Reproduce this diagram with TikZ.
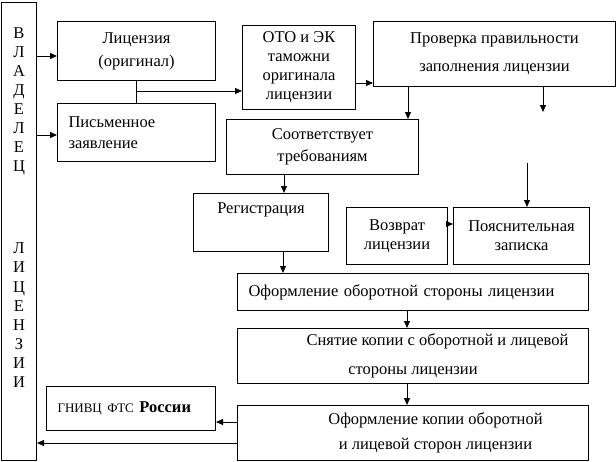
\documentclass[tikz,border=0pt]{standalone}
\usepackage{fontspec}
\setmainfont{Liberation Serif}
\usetikzlibrary{positioning,arrows.meta}

\begin{document}
\begin{tikzpicture}[
    x=1pt, y=-1pt,
    every node/.style={font=\fontsize{16.5}{19}\selectfont},
    box/.style={draw, line width=1pt, anchor=north west, inner sep=0pt, align=center},
    arr/.style={-{Triangle[length=7pt, width=6pt]}, line width=1pt},
    lin/.style={line width=1pt}
]
\useasboundingbox (0,0) rectangle (616,461);

\node[box, minimum width=35pt, minimum height=458pt] (own) at (1,2) {};
\node[below=25pt of own.north, inner sep=0pt, align=center, font=\fontsize{16.5}{19.1}\selectfont] (ownT)
{В\\Л\\А\\Д\\Е\\Л\\Е\\Ц\\[63pt]Л\\И\\Ц\\Е\\Н\\З\\И\\И};

\node[box, minimum width=158pt, minimum height=59pt] (lic) at (57,21) {Лицензия\\[4pt](оригинал)};
\node[box, minimum width=158pt, minimum height=58pt, inner xsep=11pt, text width=136pt, align=left] (app) at (57,103)
{Письменное\\[2pt]заявление};
\node[box, minimum width=113pt, minimum height=84pt] (oto) at (242,25) {ОТО и ЭК\\таможни\\оригинала\\лицензии};
\node[box, minimum width=242pt, minimum height=65pt] (chk) at (373,21) {Проверка правильности\\[9pt]заполнения лицензии};
\node[box, minimum width=192pt, minimum height=55pt] (req) at (226,119) {Соответствует\\[3pt]требованиям};
\node[box, minimum width=135pt, minimum height=58pt] (reg) at (193,193) {Регистрация\\[10pt]\mbox{}};
\node[box, minimum width=101pt, minimum height=57pt] (ret) at (346,207) {Возврат\\лицензии};
\node[box, minimum width=136pt, minimum height=57pt] (note) at (453,207) {Пояснительная\\записка};
\node[box, minimum width=351pt, minimum height=37pt, inner xsep=11pt, text width=329pt, align=left] (back) at (237,273)
{Оформление оборотной стороны лицензии};
\node[box, minimum width=351pt, minimum height=55pt] (copy) at (237,328)
{\hspace*{49pt}Снятие копии с оборотной и лицевой\\[10pt]стороны лицензии};
\node[box, minimum width=351pt, minimum height=55pt] (form) at (237,405)
{\hspace*{45pt}Оформление копии оборотной\\[6pt]\hspace*{45pt}и лицевой сторон лицензии};
\node[box, minimum width=169pt, minimum height=44pt, inner xsep=11pt, text width=147pt, align=left] (fts) at (46,386)
{{\fontsize{13}{15}\selectfont ГНИВЦ ФТС} \textbf{России}};

\draw[arr] (own.east |- 0,56) -- (lic.west |- 0,56);
\draw[arr] (own.east |- 0,135) -- (app.west |- 0,135);
\draw[lin] (lic.south) -- (app.north);
\draw[arr] (lic.south |- 0,91) -- (oto.west |- 0,91);
\draw[arr] (oto.east |- 0,83) -- (chk.west |- 0,83);
\draw[arr] (chk.south -| 408,0) -- (req.north -| 408,0);
\coordinate (chkEnd) at (543,112);
\draw[arr] (chk.south -| chkEnd) -- (chkEnd);
\coordinate (noteIn) at (527,163);
\draw[arr] (noteIn) -- (note.north -| noteIn);
\draw[arr] (req.south -| 284,0) -- (reg.north -| 284,0);
\draw[arr] (reg.south -| 283,0) -- (back.north -| 283,0);
\draw[arr] (ret.east |- 0,224) -- (note.west |- 0,224);
\draw[arr] (back.south -| 407,0) -- (copy.north -| 407,0);
\draw[arr] (copy.south -| 407,0) -- (form.north -| 407,0);
\draw[arr] (form.west |- 0,422) -- (fts.east |- 0,422);
\draw[arr] (form.west |- 0,443) -- (own.east |- 0,443);

\end{tikzpicture}
\end{document}
